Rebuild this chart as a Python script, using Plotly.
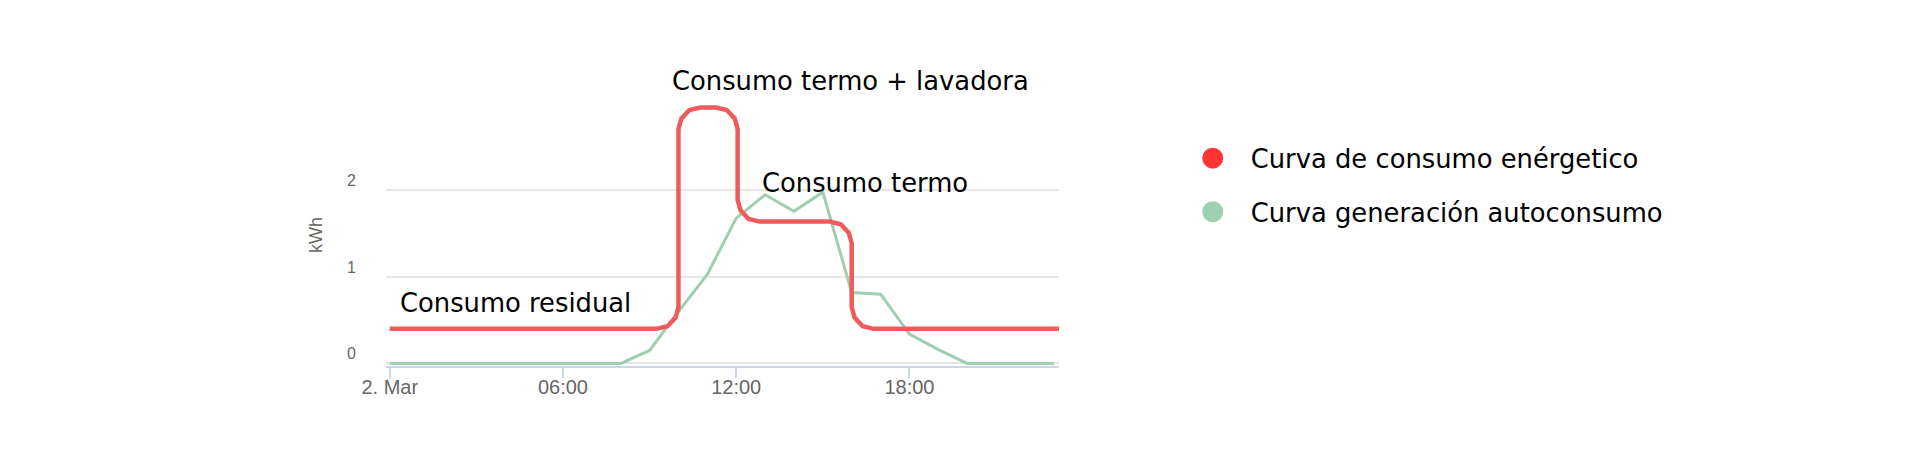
import plotly.graph_objects as go

# generación autoconsumo, valores horarios (kWh) del 2 de marzo
gen_hours = list(range(0, 24))
gen_kwh = [0, 0, 0, 0, 0, 0, 0, 0, 0, 0.15, 0.6, 1.03,
           1.68, 1.95, 1.76, 1.98, 0.82, 0.80, 0.34, 0.16, 0, 0, 0, 0]

# curva de consumo (kWh), puntos leidos a lo largo de la curva (esquinas redondeadas)
cons_hours = [0, 9.24, 9.62, 9.9, 10,
              10, 10.1, 10.38, 10.76,
              11.29, 11.67, 11.95, 12.05,
              12.05, 12.15, 12.43, 12.81,
              15.24, 15.62, 15.9, 16,
              16, 16.1, 16.38, 16.76, 23.3]
cons_kwh = [0.4, 0.4, 0.43, 0.53, 0.65,
            2.71, 2.83, 2.93, 2.96,
            2.96, 2.93, 2.83, 2.71,
            1.89, 1.77, 1.67, 1.64,
            1.64, 1.61, 1.51, 1.39,
            0.65, 0.53, 0.43, 0.4, 0.4]

tick_hours = [0, 6, 12, 18]
tick_text = ['2. Mar', '06:00', '12:00', '18:00']

legend_names = ['Curva de consumo enérgetico', 'Curva generación autoconsumo']
legend_colors = ['#ff3535', '#9fd0b1']

RED_LINE = '#ef5b5b'
GREEN_LINE = '#9fcfb0'
TEXT_FONT = 'DejaVu Sans'

fig = go.Figure()

fig.add_trace(go.Scatter(x=gen_hours, y=gen_kwh, mode='lines',
                         line=dict(color=GREEN_LINE, width=3),
                         showlegend=False, hoverinfo='skip'))
fig.add_trace(go.Scatter(x=cons_hours, y=cons_kwh, mode='lines',
                         line=dict(color=RED_LINE, width=4.5),
                         showlegend=False, hoverinfo='skip'))

# legend entries as round dots
for i, (name, col) in enumerate(zip(legend_names, legend_colors)):
    fig.add_trace(go.Scatter(x=[None], y=[None], mode='markers', name=name,
                             legendgroup=str(i),
                             marker=dict(size=16, color=col, line=dict(width=5, color=col))))

note_font = dict(family=TEXT_FONT, size=25.8, color='black')
notes = [
    ('Consumo termo + lavadora', 0.6903, 1.0878),
    ('Consumo termo', 0.7117, 0.6973),
    ('Consumo residual', 0.1917, 0.2405),
]
for txt, nx, ny in notes:
    fig.add_annotation(x=nx, y=ny, xref='paper', yref='paper',
                       xanchor='center', yanchor='middle',
                       text=txt, showarrow=False, font=note_font)

fig.update_xaxes(
    range=[-0.13, 23.18],
    tickvals=tick_hours, ticktext=tick_text,
    showgrid=False, zeroline=False,
    showline=True, linecolor='#ccd6eb', linewidth=1.5,
    ticks='outside', ticklen=10, tickcolor='#ccd6eb', tickwidth=1.5,
    ticklabelstandoff=-8,
    tickfont=dict(family='Liberation Sans', size=20, color='#666666'),
)
fig.update_yaxes(
    range=[-0.03, 3],
    tickvals=[0, 1, 2, 3], ticktext=['0', '1', '2', ''],
    showgrid=True, gridcolor='#e6e6e6', gridwidth=1.5,
    zeroline=False, showline=False,
    ticklabelshift=-10, ticklabelstandoff=29,
    tickfont=dict(family='Liberation Sans', size=16, color='#666666'),
    title=dict(text='kWh', standoff=19,
               font=dict(family='Liberation Sans', size=18, color='#666666')),
)

# margins allow for the 8px page body offset
fig.update_layout(
    width=1920, height=458,
    margin=dict(l=378, r=869, t=96, b=100),
    paper_bgcolor='white', plot_bgcolor='white',
    legend=dict(x=1.172, y=0.882, xanchor='left', yanchor='top',
                font=dict(family=TEXT_FONT, size=25.8, color='black'),
                itemwidth=66, tracegroupgap=17, bgcolor='rgba(0,0,0,0)'),
)

fig.write_html('out.html')
